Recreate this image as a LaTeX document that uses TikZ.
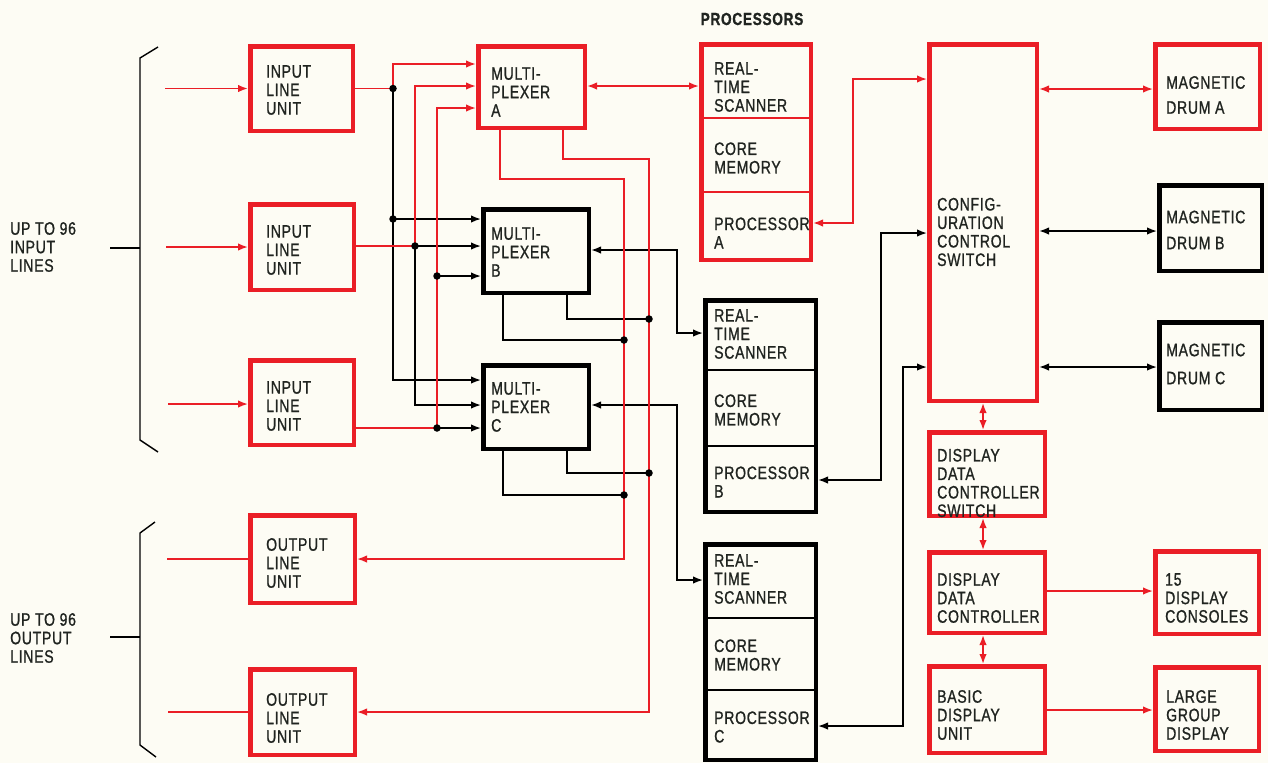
\documentclass[tikz,border=0pt]{standalone}
\usepackage{fontspec}
\setmainfont{Liberation Sans}[FakeStretch=0.78,LetterSpace=4,FakeBold=1]
\usetikzlibrary{arrows.meta}
\definecolor{rd}{RGB}{234,30,38}
\definecolor{bg}{RGB}{253,252,244}
\definecolor{ink}{RGB}{32,36,32}
\newcommand\bx[6]{\node[#6, minimum width={#4-#2-4.5}, minimum height={#5-#3-4.5}] (#1) at ({(#2+#4)/2},{(#3+#5)/2}) {};}
\begin{document}
\begin{tikzpicture}[x=1pt,y=-1pt,
  every node/.style={font=\fontsize{18}{18.5}\selectfont, text=ink},
  rbox/.style={draw=rd, line width=4.5pt, inner sep=0},
  bbox/.style={draw=black, line width=4.5pt, inner sep=0},
  txt/.style={anchor=west, align=left, inner sep=0},
  rl/.style={draw=rd, line width=1.6pt},
  bl/.style={draw=black, line width=1.6pt},
  tip/.tip={Latex[length=10pt,width=7.5pt]},
  ra/.style={rl, -tip},
  ba/.style={bl, -tip},
  rda/.style={rl, tip-tip},
  bda/.style={bl, tip-tip},
  dot/.style={circle, fill=black, inner sep=0, minimum size=7.5pt},
  brace/.style={draw=black, line width=1.4pt}
]
\useasboundingbox (0,0) rectangle (1268,763);
\fill[bg] (0,0) rectangle (1268,763);

% ---------- boxes ----------
\bx{ilu1}{248}{44}{355}{133}{rbox}
\bx{ilu2}{248}{202}{356}{292}{rbox}
\bx{ilu3}{248}{358}{356}{447}{rbox}
\bx{olu1}{248}{513}{357}{605}{rbox}
\bx{olu2}{248}{667}{357}{757}{rbox}
\bx{muxA}{476}{44}{587}{130}{rbox}
\bx{muxB}{481}{207}{591}{295}{bbox}
\bx{muxC}{481}{363}{591}{451}{bbox}
\bx{procA}{699}{42}{813}{262}{rbox}
\bx{procB}{703}{298}{818}{514}{bbox}
\bx{procC}{703}{542}{818}{762}{bbox}
\bx{cfg}{927}{42}{1039}{403}{rbox}
\bx{ddcs}{927}{430}{1047}{518}{rbox}
\bx{ddc}{927}{550}{1047}{635}{rbox}
\bx{bdu}{927}{664}{1047}{755}{rbox}
\bx{drA}{1153}{42}{1262}{131}{rbox}
\bx{drB}{1157}{183}{1264}{273}{bbox}
\bx{drC}{1157}{320}{1264}{412}{bbox}
\bx{cons}{1153}{549}{1261}{636}{rbox}
\bx{lgd}{1153}{665}{1261}{753}{rbox}

% processor dividers
\draw[rd, line width=1.5pt] (procA.west |- 0,118) -- (procA.east |- 0,118);
\draw[rd, line width=1.5pt] (procA.west |- 0,192) -- (procA.east |- 0,192);
\draw[black, line width=2pt] (procB.west |- 0,370) -- (procB.east |- 0,370);
\draw[black, line width=2pt] (procB.west |- 0,446) -- (procB.east |- 0,446);
\draw[black, line width=2pt] (procC.west |- 0,618) -- (procC.east |- 0,618);
\draw[black, line width=2pt] (procC.west |- 0,690) -- (procC.east |- 0,690);

% ---------- texts ----------
\node[txt] (ilu1t) at (266,90) {INPUT\\LINE\\UNIT};
\node[txt] (ilu2t) at (266,250) {INPUT\\LINE\\UNIT};
\node[txt] (ilu3t) at (266,406) {INPUT\\LINE\\UNIT};
\node[txt] (olu1t) at (266,563) {OUTPUT\\LINE\\UNIT};
\node[txt] (olu2t) at (266,718) {OUTPUT\\LINE\\UNIT};
\node[txt] (muxAt) at (491,92) {MULTI-\\PLEXER\\A};
\node[txt] (muxBt) at (491,252) {MULTI-\\PLEXER\\B};
\node[txt] (muxCt) at (491,407) {MULTI-\\PLEXER\\C};
\node[txt] (pAs) at (714,87) {REAL-\\TIME\\SCANNER};
\node[txt] (pAm) at (714,158) {CORE\\MEMORY};
\node[txt] (pAp) at (714,233) {PROCESSOR\\A};
\node[txt] (pBs) at (714,334) {REAL-\\TIME\\SCANNER};
\node[txt] (pBm) at (714,410) {CORE\\MEMORY};
\node[txt] (pBp) at (714,482) {PROCESSOR\\B};
\node[txt] (pCs) at (714,579) {REAL-\\TIME\\SCANNER};
\node[txt] (pCm) at (714,655) {CORE\\MEMORY};
\node[txt] (pCp) at (714,727) {PROCESSOR\\C};
\node[font=\bfseries\fontsize{17.5}{18}\selectfont, inner sep=0] (proct) at (752,19) {PROCESSORS};
\node[txt] (cfgt) at (937,232) {CONFIG-\\URATION\\CONTROL\\SWITCH};
\node[txt] (ddcst) at (937,483) {DISPLAY\\DATA\\CONTROLLER\\SWITCH};
\node[txt] (ddct) at (937,598) {DISPLAY\\DATA\\CONTROLLER};
\node[txt] (bdut) at (937,715) {BASIC\\DISPLAY\\UNIT};
\node[txt, font=\fontsize{18}{25}\selectfont] (drAt) at (1166,95) {MAGNETIC\\DRUM A};
\node[txt, font=\fontsize{18}{26}\selectfont] (drBt) at (1166,230) {MAGNETIC\\DRUM B};
\node[txt, font=\fontsize{18}{28}\selectfont] (drCt) at (1166,364) {MAGNETIC\\DRUM C};
\node[txt] (const) at (1165,598) {15\\DISPLAY\\CONSOLES};
\node[txt] (lgdt) at (1166,715) {LARGE\\GROUP\\DISPLAY};
\node[txt] (inlab) at (10,247) {UP TO 96\\INPUT\\LINES};
\node[txt] (outlab) at (10,638) {UP TO 96\\OUTPUT\\LINES};

% ---------- braces ----------
\draw[brace] (158,47) -- (140,58) -- (140,440) -- (158,452);
\draw[brace] (110,248) -- (140,248);
\draw[brace] (155,522) -- (140,533) -- (140,745) -- (156,757);
\draw[brace] (110,637) -- (140,637);

% ---------- input / output lines ----------
\coordinate (i1) at (165,88.5);
\coordinate (i2) at (166,247);
\coordinate (i3) at (168,404);
\coordinate (o1) at (167,559);
\coordinate (o2) at (168,712);
\draw[ra] (i1) -- (ilu1.west |- i1);
\draw[ra] (i2) -- (ilu2.west |- i2);
\draw[ra] (i3) -- (ilu3.west |- i3);
\draw[rl] (olu1.west |- o1) -- (o1);
\draw[rl] (olu2.west |- o2) -- (o2);

% ---------- junctions ----------
\coordinate (d1) at (393,88.5);
\coordinate (d2) at (393,219);
\coordinate (d3) at (415,246);
\coordinate (d4) at (437,428);
\coordinate (d5) at (437,276);
\coordinate (d6) at (624,340);
\coordinate (d7) at (649,319);
\coordinate (d8) at (624,495);
\coordinate (d9) at (649,473);

% input line units to multiplexers
\draw[bl] (d1) -- (d2);
\draw[ba] (d2) -- (muxB.west |- d2);
\draw[ba] (d2) |- (muxC.west |- 0,380);
\draw[ba] (d3) -- (muxB.west |- d3);
\draw[ba] (d3) |- (muxC.west |- 0,405);
\draw[ba] (d5) -- (muxB.west |- d5);
\draw[ba] (d4) -- (muxC.west |- d4);
\draw[rl] (ilu1.east) -- (d1);
\draw[ra] (d1) |- (muxA.west |- 0,64);
\draw[rl] (ilu2.east |- d3) -- (d3);
\draw[ra] (d3) |- (muxA.west |- 0,86);
\draw[rl] (ilu3.east |- d4) -- (d4);
\draw[ra] (d4) |- (muxA.west |- 0,108);

% multiplexer outputs
\draw[bl] (muxB.south -| 503,0) |- (d6);
\draw[bl] (muxB.south -| 567,0) |- (d7);
\draw[bl] (muxC.south -| 503,0) |- (d8);
\draw[bl] (muxC.south -| 567,0) |- (d9);
\draw[bda] (muxB.east |- 0,250) -| (677,333) -- (procB.west |- 0,333);
\draw[bda] (muxC.east |- 0,405) -| (677,580) -- (procC.west |- 0,580);
\draw[ra] (muxA.south -| 500,0) |- (624,179) |- (olu1.east |- o1);
\draw[ra] (muxA.south -| 563,0) |- (649,159) |- (olu2.east |- o2);
\draw[rda] (muxA.east |- 0,86) -- (procA.west |- 0,86);

\foreach \d in {d1,d2,d3,d4,d5,d6,d7,d8,d9} \node[dot] at (\d) {};

% processors to configuration switch
\draw[rda] (procA.east |- 0,223) -| (853,79) -- (cfg.west |- 0,79);
\draw[bda] (procB.east |- 0,480) -| (881,233) -- (cfg.west |- 0,233);
\draw[bda] (procC.east |- 0,726) -| (903,367) -- (cfg.west |- 0,367);

% configuration switch to drums
\draw[rda] (cfg.east |- 0,89) -- (drA.west |- 0,89);
\draw[bda] (cfg.east |- 0,231) -- (drB.west |- 0,231);
\draw[bda] (cfg.east |- 0,367) -- (drC.west |- 0,367);

% display chain
\draw[rda] (cfg.south -| 983,0) -- (ddcs.north -| 983,0);
\draw[rda] (ddcs.south -| 983,0) -- (ddc.north -| 983,0);
\draw[rda] (ddc.south -| 983,0) -- (bdu.north -| 983,0);
\draw[ra] (ddc.east |- 0,591) -- (cons.west |- 0,591);
\draw[ra] (bdu.east |- 0,710) -- (lgd.west |- 0,710);
\end{tikzpicture}
\end{document}
